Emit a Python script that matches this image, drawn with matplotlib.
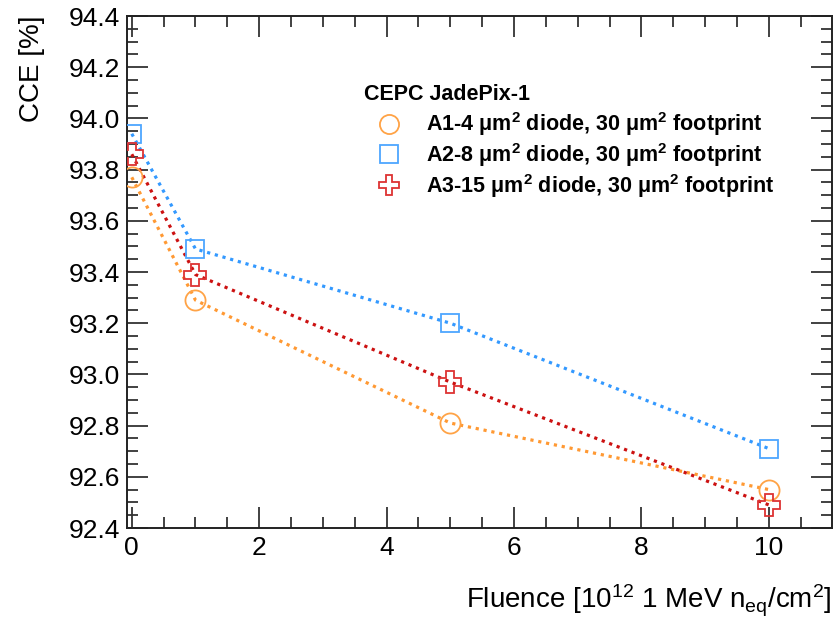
import matplotlib
matplotlib.use("Agg")
import matplotlib.pyplot as plt
from matplotlib.lines import Line2D
from matplotlib.ticker import MultipleLocator, FormatStrFormatter

plt.rcParams['font.family'] = ['Liberation Sans', 'DejaVu Sans']
plt.rcParams['mathtext.fontset'] = 'custom'
plt.rcParams['mathtext.rm'] = 'Liberation Sans'
plt.rcParams['mathtext.it'] = 'Liberation Sans'
plt.rcParams['mathtext.bf'] = 'Liberation Sans:bold'

# Fluence points (10^12 1 MeV n_eq / cm^2)
fluence = [0, 1, 5, 10]

# Charge collection efficiency [%] per pixel design
cce_a1 = [93.77, 93.29, 92.81, 92.55]
cce_a2 = [93.94, 93.49, 93.20, 92.71]
cce_a3 = [93.86, 93.39, 92.97, 92.49]

labels = [
    r"A1-4 $\mathbf{\mu}$m$^\mathbf{2}$ diode, 30 $\mathbf{\mu}$m$^\mathbf{2}$ footprint",
    r"A2-8 $\mathbf{\mu}$m$^\mathbf{2}$ diode, 30 $\mathbf{\mu}$m$^\mathbf{2}$ footprint",
    r"A3-15 $\mathbf{\mu}$m$^\mathbf{2}$ diode, 30 $\mathbf{\mu}$m$^\mathbf{2}$ footprint",
]
header = "CEPC JadePix-1"

W, H = 837, 621
fig = plt.figure(figsize=(W / 100, H / 100), dpi=100)
ax = fig.add_axes([127 / W, 1 - 528 / H, (832 - 127) / W, (528 - 16) / H])

styles = [
    dict(data=cce_a1, line="#ff9933", edge="#ffa346", marker="o", ms=14.5),
    dict(data=cce_a2, line="#3399ff", edge="#4da6ff", marker="s", ms=13.5),
    dict(data=cce_a3, line="#cc1111", edge="#dd3333", marker="P", ms=15.5),
]

dots = (0, (1.0, 1.5))
for s in styles:
    ax.plot(fluence, s["data"], color=s["line"], lw=2.3, ls=dots,
            dash_capstyle="butt", zorder=2)
    ax.plot(fluence, s["data"], ls="none", marker=s["marker"], ms=s["ms"],
            mfc="none", mec=s["edge"], mew=1.3, zorder=3)

ax.set_xlim(-0.075, 10.99)
ax.set_ylim(92.4, 94.4)

ax.xaxis.set_major_locator(MultipleLocator(2))
ax.xaxis.set_minor_locator(MultipleLocator(0.5))
ax.yaxis.set_major_locator(MultipleLocator(0.2))
ax.yaxis.set_minor_locator(MultipleLocator(0.05))
ax.yaxis.set_major_formatter(FormatStrFormatter("%.1f"))

ax.tick_params(which="both", direction="in", top=True, right=True,
               labelsize=19, color="#333333", width=1.3)
ax.tick_params(which="major", length=15)
ax.tick_params(which="minor", length=8)
ax.tick_params(axis="x", pad=6)
ax.tick_params(axis="y", pad=5)
for sp in ax.spines.values():
    sp.set_linewidth(1.4)
    sp.set_color("#222222")

ax.set_ylabel("CCE [%]", fontsize=20, loc="top", labelpad=17)
ax.set_xlabel(r"Fluence [10$^{12}$ 1 MeV n$_{\mathrm{eq}}$/cm$^{2}$]",
              fontsize=20, loc="right", labelpad=16)

# legend header and entries
fs_leg = 15.5
fig.text(364 / W, 1 - 94 / H, header, fontsize=fs_leg, weight="bold",
         ha="left", va="center")
handles = [Line2D([], [], ls="none", marker=s["marker"], ms=s["ms"] * 0.95,
                  mfc="none", mec=s["edge"], mew=1.3) for s in styles]
leg = ax.legend(handles, labels, loc="upper left",
                bbox_to_anchor=(370 / W, 1 - 106 / H),
                bbox_transform=fig.transFigure, frameon=False,
                prop=dict(size=fs_leg, weight="bold"),
                handlelength=1.4, handletextpad=1.0,
                labelspacing=0.13, borderpad=0.2, borderaxespad=0)

fig.savefig("out.png", dpi=100)
